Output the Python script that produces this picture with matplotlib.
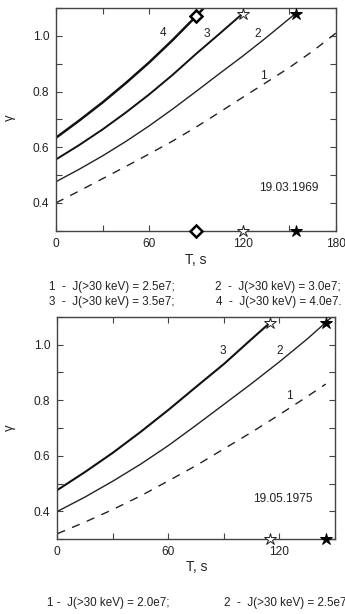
import matplotlib
matplotlib.use("Agg")
import matplotlib.pyplot as plt
from matplotlib.ticker import MultipleLocator, FixedLocator

plt.rcParams['font.family'] = ['Liberation Sans', 'DejaVu Sans']

W, H = 345, 614

# ---------------- data: panel 1 (19.03.1969) ----------------
t1_c1 = [0, 15, 30, 45, 60, 75, 90, 105, 120, 135, 150, 165, 180]
g1_c1 = [0.40, 0.443, 0.487, 0.531, 0.576, 0.622, 0.672, 0.725, 0.779, 0.832, 0.886, 0.945, 1.01]
t1_c2 = [0, 15, 30, 45, 60, 75, 90, 105, 120, 135, 150, 154]
g1_c2 = [0.476, 0.521, 0.569, 0.621, 0.677, 0.737, 0.80, 0.864, 0.927, 0.993, 1.062, 1.08]
t1_c3 = [0, 15, 30, 45, 60, 75, 90, 105, 120]
g1_c3 = [0.556, 0.608, 0.664, 0.725, 0.79, 0.86, 0.935, 1.007, 1.08]
t1_c4 = [0, 15, 30, 45, 60, 75, 90, 95]
g1_c4 = [0.634, 0.696, 0.761, 0.831, 0.905, 0.985, 1.07, 1.10]
mark1_t = [90, 120, 154]           # diamond, open star, filled star
mark1_g = [1.07, 1.08, 1.08]
legend1 = ["1  -  J(>30 keV) = 2.5e7;", "2  -  J(>30 keV) = 3.0e7;",
           "3  -  J(>30 keV) = 3.5e7;", "4  -  J(>30 keV) = 4.0e7."]

# ---------------- data: panel 2 (19.05.1975) ----------------
t2_c1 = [0, 15, 30, 45, 60, 75, 90, 105, 120, 135, 145]
g2_c1 = [0.32, 0.362, 0.407, 0.456, 0.51, 0.565, 0.625, 0.685, 0.748, 0.813, 0.858]
t2_c2 = [0, 15, 30, 45, 60, 75, 90, 105, 120, 135, 145, 150]
g2_c2 = [0.40, 0.452, 0.509, 0.57, 0.637, 0.71, 0.785, 0.86, 0.938, 1.02, 1.079, 1.11]
t2_c3 = [0, 15, 30, 45, 60, 75, 90, 105, 115]
g2_c3 = [0.477, 0.542, 0.611, 0.686, 0.765, 0.848, 0.93, 1.02, 1.079]
mark2_t = [115, 145]               # open star, filled star
mark2_g = [1.079, 1.079]
legend2 = ["1 -  J(>30 keV) = 2.0e7;", "2  -  J(>30 keV) = 2.5e7;"]

fig = plt.figure(figsize=(W / 100, H / 100), dpi=100)

def fx(px):
    return px / W

def fy(py):
    return 1 - py / H

TXT = '#222222'
AX = '#444444'
LEGFS = 8.4

def style_axes(ax, xmax, xmajor):
    ax.set_xlim(0, xmax)
    ax.set_ylim(0.3, 1.1)
    ax.xaxis.set_major_locator(FixedLocator(xmajor))
    ax.xaxis.set_minor_locator(MultipleLocator(30))
    ax.yaxis.set_major_locator(FixedLocator([0.4, 0.6, 0.8, 1.0]))
    ax.yaxis.set_minor_locator(MultipleLocator(0.1))
    ax.tick_params(which='both', direction='in', top=True, right=True,
                   length=4, width=0.8, color=AX, labelsize=8.6,
                   labelcolor=TXT, pad=5)
    ax.set_yticklabels(['0.4', '0.6', '0.8', '1.0'])
    for s in ax.spines.values():
        s.set_color(AX)
        s.set_linewidth(1.0)

# ---------------- panel 1 ----------------
ax1 = fig.add_axes([fx(56), fy(230.7), fx(336) - fx(56), fy(8) - fy(230.7)])
style_axes(ax1, 180, [0, 60, 120, 180])
ax1.set_xticklabels(['0', '60', '120', '180'])
ax1.plot(t1_c1, g1_c1, color='#222', lw=1.0, dashes=(6, 5.5), dash_capstyle='butt')
ax1.plot(t1_c2, g1_c2, color='#222', lw=1.0)
ax1.plot(t1_c3, g1_c3, color='#111', lw=1.4)
ax1.plot(t1_c4, g1_c4, color='#111', lw=1.8)

ax1.plot(mark1_t[0], mark1_g[0], marker='D', ms=6, mfc='white', mec='black', mew=1.8, clip_on=False, zorder=5)
ax1.plot(mark1_t[1], mark1_g[1], marker='*', ms=9, mfc='white', mec='#222', mew=0.7, clip_on=False, zorder=5)
ax1.plot(mark1_t[2], mark1_g[2], marker='*', ms=9, mfc='black', mec='black', mew=0.7, clip_on=False, zorder=5)
ax1.plot(mark1_t[0], 0.3, marker='D', ms=6, mfc='white', mec='black', mew=1.8, clip_on=False, zorder=5)
ax1.plot(mark1_t[1], 0.3, marker='*', ms=9, mfc='white', mec='#222', mew=0.7, clip_on=False, zorder=5)
ax1.plot(mark1_t[2], 0.3, marker='*', ms=9, mfc='black', mec='black', mew=0.7, clip_on=False, zorder=5)

for lab, (tx, gy) in zip(['4', '3', '2', '1'], [(69, 1.01), (97, 1.008), (129.5, 1.008), (133, 0.856)]):
    ax1.text(tx, gy, lab, fontsize=8.6, color=TXT, ha='center', va='center')
ax1.text(149.5, 0.455, '19.03.1969', fontsize=8.6, color=TXT, ha='center', va='center')

fig.text(fx(196), fy(260), 'T, s', fontsize=10, color=TXT, ha='center', va='center')
fig.text(fx(10), fy(118), 'γ', fontsize=9.5, color=TXT, ha='center', va='center', rotation=90)

fig.text(fx(49.3), fy(287), legend1[0], fontsize=LEGFS, color=TXT, ha='left', va='center')
fig.text(fx(215), fy(287), legend1[1], fontsize=LEGFS, color=TXT, ha='left', va='center')
fig.text(fx(49.3), fy(301.5), legend1[2], fontsize=LEGFS, color=TXT, ha='left', va='center')
fig.text(fx(216.5), fy(301.5), legend1[3], fontsize=LEGFS, color=TXT, ha='left', va='center')

# ---------------- panel 2 ----------------
ax2 = fig.add_axes([fx(57.3), fy(539.3), fx(335) - fx(57.3), fy(316.7) - fy(539.3)])
style_axes(ax2, 150, [0, 60, 120])
ax2.set_xticklabels(['0', '60', '120'])
ax2.plot(t2_c1, g2_c1, color='#222', lw=1.0, dashes=(6, 5.5), dash_capstyle='butt')
ax2.plot(t2_c2, g2_c2, color='#222', lw=1.0)
ax2.plot(t2_c3, g2_c3, color='#111', lw=1.5)

ax2.plot(mark2_t[0], mark2_g[0], marker='*', ms=9, mfc='white', mec='#222', mew=0.7, clip_on=False, zorder=5)
ax2.plot(mark2_t[1], mark2_g[1], marker='*', ms=9, mfc='black', mec='black', mew=0.7, clip_on=False, zorder=5)
ax2.plot(mark2_t[0], 0.3, marker='*', ms=9, mfc='white', mec='#222', mew=0.7, clip_on=False, zorder=5)
ax2.plot(mark2_t[1], 0.3, marker='*', ms=9, mfc='black', mec='black', mew=0.7, clip_on=False, zorder=5)

for lab, (tx, gy) in zip(['3', '2', '1'], [(89.4, 0.977), (120, 0.977), (125.4, 0.815)]):
    ax2.text(tx, gy, lab, fontsize=8.6, color=TXT, ha='center', va='center')
ax2.text(121.8, 0.446, '19.05.1975', fontsize=8.6, color=TXT, ha='center', va='center')

fig.text(fx(196.7), fy(566.7), 'T, s', fontsize=10, color=TXT, ha='center', va='center')
fig.text(fx(10), fy(428), 'γ', fontsize=9.5, color=TXT, ha='center', va='center', rotation=90)

fig.text(fx(46.7), fy(602.7), legend2[0], fontsize=LEGFS, color=TXT, ha='left', va='center')
fig.text(fx(224), fy(602.7), legend2[1], fontsize=LEGFS, color=TXT, ha='left', va='center')

fig.savefig('out.png', dpi=100)
